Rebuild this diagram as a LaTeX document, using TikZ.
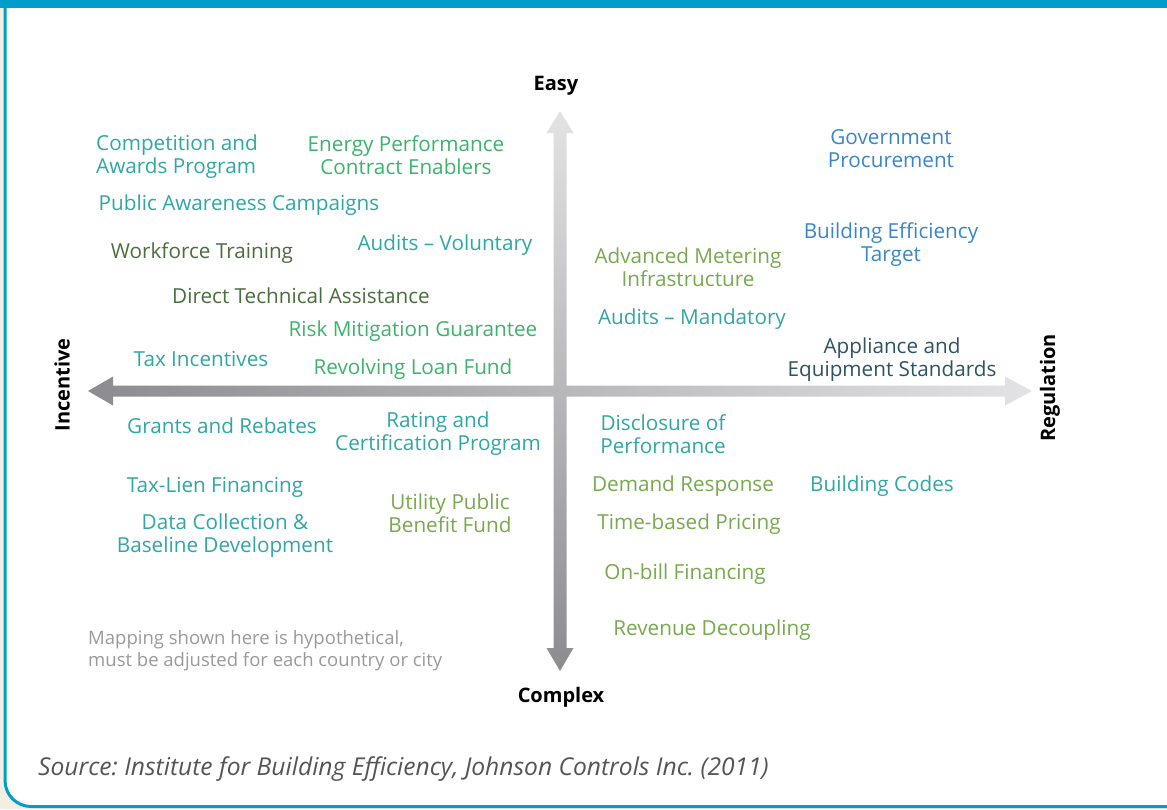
\documentclass[tikz,border=0pt]{standalone}
\usepackage{fontspec}
\setmainfont{Open Sans}
\usetikzlibrary{calc}
\frenchspacing
\definecolor{frameblue}{HTML}{009DCC}
\definecolor{beige}{HTML}{F3EEE4}
\definecolor{cteal}{HTML}{2FA7A6}
\definecolor{cgreen}{HTML}{3DB36C}
\definecolor{colive}{HTML}{4B6E3E}
\definecolor{clight}{HTML}{78A94E}
\definecolor{cblue}{HTML}{3A86C8}
\definecolor{cslate}{HTML}{2E5462}
\definecolor{cnote}{HTML}{9A9A9A}
\definecolor{csrc}{HTML}{555555}
\definecolor{adark}{HTML}{8C8C90}
\definecolor{alight}{HTML}{E3E3E5}
\begin{document}
\begin{tikzpicture}[x=1pt,y=-1pt,
  every node/.style={inner sep=0pt, align=center},
  lbl/.style={font=\fontsize{20.7}{23}\selectfont},
  teal/.style={lbl, text=cteal},
  grn/.style={lbl, text=cgreen},
  olive/.style={lbl, text=colive},
  light/.style={lbl, text=clight},
  blu/.style={lbl, text=cblue},
  slate/.style={lbl, text=cslate},
  axislbl/.style={font=\fontsize{20}{22}\selectfont\bfseries, text=black}]
\useasboundingbox (0,0) rectangle (1167,809);
\fill[beige] (0,0) rectangle (1167,809);
\draw[frameblue, line width=3pt, fill=white, rounded corners=26pt] (5,-20) rectangle (1200,806.5);
\fill[frameblue] (0,0) rectangle (1167,8);

% axis end coordinates
\coordinate (L) at (88,391);
\coordinate (R) at (1032,391);
\coordinate (T) at (560,111);
\coordinate (B) at (560,671);

\shade[left color=adark, right color=alight]
  (L) -- ++(25,-14.5) -- ++(0,9) -- ($(R)+(-27,-5.5)$) -- ++(0,-9) -- (R)
  -- ++(-27,14.5) -- ++(0,-9) -- ($(L)+(25,5.5)$) -- ++(0,9) -- cycle;
\shade[top color=alight, bottom color=adark]
  (T) -- ++(13.5,22) -- ++(-7,0) -- ($(B)+(6.5,-23)$) -- ++(7,0) -- (B)
  -- ++(-13.5,-23) -- ++(7,0) -- ($(T)+(-6.5,22)$) -- ++(-7,0) -- cycle;

% axis labels
\node[axislbl] (easy) at (556,86) {Easy};
\node[axislbl] (complex) at (561,697) {Complex};
\node[axislbl, rotate=90] (incentive) at (62,385) {Incentive};
\node[axislbl, rotate=90] (regulation) at (1050,388) {Regulation};

% upper left
\node[teal, align=left, anchor=west] (comp) at (96,157) {Competition and\\Awards Program};
\node[grn] (epc) at (406,155) {Energy Performance\\Contract Enablers};
\node[teal] (pac) at (239,205) {Public Awareness Campaigns};
\node[olive] (wft) at (202,253) {Workforce Training};
\node[teal] (audv) at (445,245) {Audits -- Voluntary};
\node[olive] (dta) at (301,296) {Direct Technical Assistance};
\node[grn] (rmg) at (413,331) {Risk Mitigation Guarantee};
\node[teal] (tax) at (201,359) {Tax Incentives};
\node[grn] (rlf) at (413,369) {Revolving Loan Fund};

% lower left
\node[teal] (grants) at (222,426) {Grants and Rebates};
\node[teal] (rating) at (438,434) {Rating and\\Certification Program};
\node[teal] (tlf) at (215,487) {Tax-Lien Financing};
\node[light] (upbf) at (450,513) {Utility Public\\Benefit Fund};
\node[teal] (data) at (225,536) {Data Collection \&\\Baseline Development};
\node[text=cnote, align=left, anchor=west, font=\fontsize{18.5}{22}\selectfont] (note) at (88,651) {Mapping shown here is hypothetical,\\must be adjusted for each country or city};

% upper right
\node[blu] (gp) at (891,149) {Government\\Procurement};
\node[blu] (bet) at (891,245) {Building Efficiency\\Target};
\node[light] (ami) at (688,267) {Advanced Metering\\Infrastructure};
\node[teal] (audm) at (692,319) {Audits -- Mandatory};
\node[slate] (aes) at (892,360) {Appliance and\\Equipment Standards};

% lower right
\node[teal] (disc) at (663,434) {Disclosure of\\Performance};
\node[light] (dr) at (683,486) {Demand Response};
\node[teal] (bc) at (882,486) {Building Codes};
\node[light] (tbp) at (689,524) {Time-based Pricing};
\node[light] (obf) at (685,574) {On-bill Financing};
\node[light] (rd) at (712,630) {Revenue Decoupling};

\node[text=csrc, anchor=west, font=\fontsize{24.6}{26}\selectfont\itshape] (src) at (38,769) {Source: Institute for Building Efficiency, Johnson Controls Inc. (2011)};
\end{tikzpicture}
\end{document}
